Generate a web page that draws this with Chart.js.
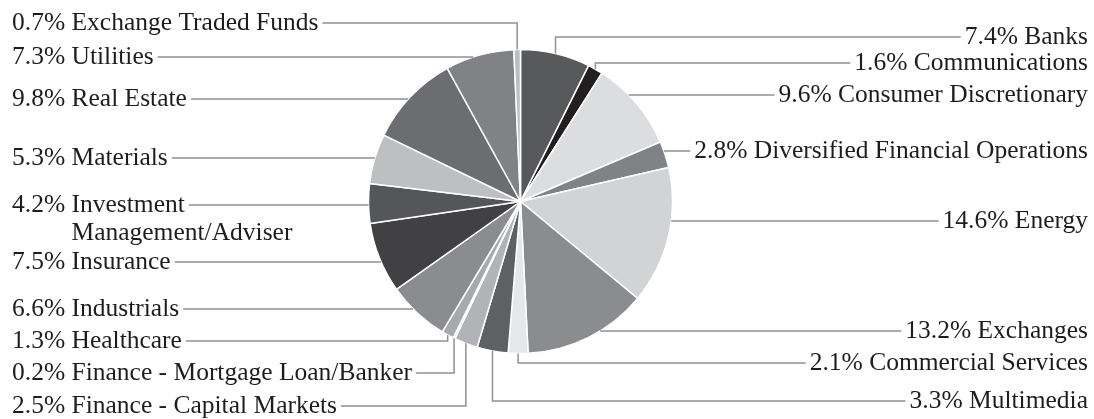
<!DOCTYPE html>
<html>
<head>
<meta charset="utf-8">
<script src="https://cdn.jsdelivr.net/npm/chart.js@4.4.1/dist/chart.umd.min.js"></script>
<style>
  html, body { margin: 0; padding: 0; background: #fff; }
  #wrap { width: 1094px; height: 419px; }
</style>
</head>
<body>
<div id="wrap"><canvas id="chartSektor" width="1094" height="419"></canvas></div>
<script>
// slices, clockwise from 12 o'clock
const categories = [
    'Banks', 'Communications', 'Consumer Discretionary', 'Diversified Financial Operations',
    'Energy', 'Exchanges', 'Commercial Services', 'Multimedia',
    'Finance - Capital Markets', 'Finance - Mortgage Loan/Banker', 'Healthcare', 'Industrials',
    'Insurance', ['Investment', 'Management/Adviser'], 'Materials', 'Real Estate',
    'Utilities', 'Exchange Traded Funds'
];
const shares = [7.4, 1.6, 9.6, 2.8, 14.6, 13.2, 2.1, 3.3, 2.5, 0.2, 1.3, 6.6, 7.5, 4.2, 5.3, 9.8, 7.3, 0.7];

const sliceColors = [
    '#58595b', '#231f20', '#dcddde', '#808285', '#d1d3d4', '#8a8c8e', '#e6e7e8', '#5f6062',
    '#b1b3b6', '#d6d7d9', '#a7a9ac', '#8a8c8f', '#414042', '#555658', '#bdbfc1', '#6c6d70',
    '#808285', '#bcbec0'
];

// label placement: which side, and the height of its leader line
const labelSide = ['right', 'right', 'right', 'right', 'right', 'right', 'right', 'right',
    'left', 'left', 'left', 'left', 'left', 'left', 'left', 'left', 'left', 'left'];
const labelLineY = [37, 63, 95, 151, 221, 331, 363, 401, 406, 373, 341, 309, 262, 205, 158, 99, 57, 23];

const FONT = '25.5px "Liberation Serif", "Times New Roman", serif';
const LEFT_X = 12, RIGHT_X = 1088, GAP = 4, LINE_H = 28;

function normAngle(a) {
    // chart.js arcs run from -PI/2 to 3PI/2
    while (a < -Math.PI / 2) a += Math.PI * 2;
    while (a >= Math.PI * 1.5) a -= Math.PI * 2;
    return a;
}

const leaderLabels = {
    id: 'leaderLabels',
    afterDatasetsDraw(chart) {
        const ctx = chart.ctx;
        const arcs = chart.getDatasetMeta(0).data;
        ctx.save();
        ctx.font = FONT;
        ctx.textBaseline = 'middle';
        arcs.forEach((arc, i) => {
            const { x: cx, y: cy, startAngle, endAngle, outerRadius: r } = arc.getProps(['x', 'y', 'startAngle', 'endAngle', 'outerRadius'], true);
            const lines = Array.isArray(categories[i]) ? categories[i] : [categories[i]];
            const prefix = shares[i].toFixed(1) + '% ';
            const first = prefix + lines[0];
            const ly = labelLineY[i];
            const side = labelSide[i];
            const w = ctx.measureText(first).width;

            // text
            ctx.fillStyle = '#1f1c1d';
            let lineEndX;
            if (side === 'left') {
                ctx.textAlign = 'left';
                ctx.fillText(first, LEFT_X, ly);
                const indent = ctx.measureText(prefix).width;
                for (let k = 1; k < lines.length; k++) {
                    ctx.fillText(lines[k], LEFT_X + indent, ly + LINE_H * k);
                }
                lineEndX = LEFT_X + w + GAP;
            } else {
                ctx.textAlign = 'right';
                ctx.fillText(first, RIGHT_X, ly);
                lineEndX = RIGHT_X - w - GAP;
            }

            // leader: straight if the horizontal hits this slice, else an elbow from its middle
            const dir = side === 'left' ? -1 : 1;
            const dy = ly - cy;
            let straight = false, hitX = 0;
            if (Math.abs(dy) < r) {
                hitX = cx + dir * Math.sqrt(r * r - dy * dy);
                const a = normAngle(Math.atan2(dy, hitX - cx));
                straight = a >= startAngle && a <= endAngle;
            }
            ctx.beginPath();
            if (straight) {
                ctx.moveTo(hitX, ly);
                ctx.lineTo(lineEndX, ly);
            } else {
                const mid = (startAngle + endAngle) / 2;
                const ax = cx + r * Math.cos(mid);
                const ay = cy + r * Math.sin(mid);
                ctx.moveTo(ax, ay);
                ctx.lineTo(ax, ly);
                ctx.lineTo(lineEndX, ly);
            }
            ctx.strokeStyle = '#8f9194';
            ctx.lineWidth = 1.5;
            ctx.stroke();
        });
        ctx.restore();
    }
};

new Chart(document.getElementById('chartSektor'), {
    type: 'pie',
    data: {
        labels: categories,
        datasets: [{
            data: shares,
            backgroundColor: sliceColors,
            borderColor: '#ffffff',
            borderWidth: 1.5
        }]
    },
    options: {
        responsive: false,
        animation: false,
        layout: { padding: { left: 367.75, right: 420.75, top: 48.75, bottom: 64.75 } },
        plugins: {
            legend: { display: false },
            tooltip: { enabled: false }
        }
    },
    plugins: [leaderLabels]
});
</script>
</body>
</html>
